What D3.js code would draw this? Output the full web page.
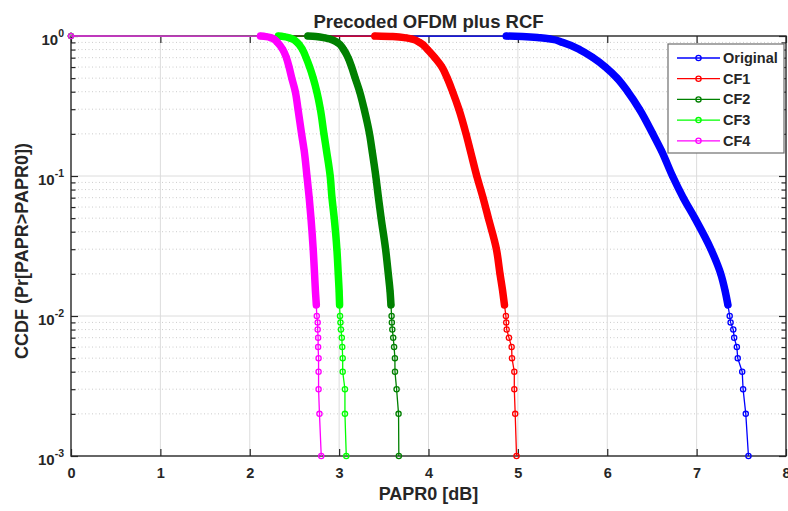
<!DOCTYPE html>
<html lang="en">
<head>
<meta charset="utf-8">
<title>Precoded OFDM plus RCF</title>
<script src="https://d3js.org/d3.v7.min.js"></script>
<style>
body {
  margin: 0;
  background: #fff;
}
/* all chart text is bold, dark grey like matlab */
text {
  font-family: "Liberation Sans", Arial, Helvetica, sans-serif;
  font-weight: bold;
  fill: #262626;
}
</style>
</head>
<body>
<div id="chart"></div>
<script>
// CCDF levels (y values shared by every curve)
var ccdf = [1, 0.999, 0.99, 0.97, 0.95, 0.9, 0.8, 0.7, 0.6, 0.5, 0.4, 0.3, 0.2, 0.15, 0.1,
            0.07, 0.05, 0.03, 0.02, 0.015, 0.012, 0.01, 0.009, 0.008, 0.007, 0.006, 0.005,
            0.004, 0.003, 0.002, 0.001];

// PAPR0 [dB] reached at each ccdf level, one array per curve
var paprOriginal = [0, 4.87, 5.05, 5.25, 5.37, 5.50, 5.69, 5.84, 5.98, 6.11, 6.23, 6.36, 6.51, 6.61, 6.73,
                    6.85, 6.98, 7.16, 7.27, 7.32, 7.35, 7.37, 7.38, 7.41, 7.42, 7.45, 7.46,
                    7.51, 7.52, 7.55, 7.58];
var paprCF1 = [0, 3.40, 3.60, 3.75, 3.82, 3.90, 3.99, 4.07, 4.15, 4.21, 4.27, 4.34, 4.42, 4.47, 4.54,
               4.61, 4.67, 4.76, 4.80, 4.83, 4.85, 4.866, 4.87, 4.875, 4.90, 4.93, 4.934,
               4.96, 4.96, 4.97, 4.985];
var paprCF2 = [0, 2.65, 2.74, 2.84, 2.90, 2.98, 3.05, 3.10, 3.14, 3.18, 3.23, 3.28, 3.34, 3.37, 3.41,
               3.44, 3.47, 3.52, 3.55, 3.57, 3.58, 3.587, 3.59, 3.595, 3.605, 3.615, 3.624,
               3.625, 3.643, 3.665, 3.668];
var paprCF3 = [0, 2.32, 2.38, 2.44, 2.48, 2.53, 2.59, 2.63, 2.67, 2.71, 2.75, 2.79, 2.83, 2.86, 2.90,
               2.92, 2.945, 2.975, 2.99, 3.0, 3.005, 3.01, 3.015, 3.02, 3.03, 3.035, 3.04,
               3.04, 3.065, 3.065, 3.08];
var paprCF4 = [0, 2.12, 2.18, 2.24, 2.27, 2.31, 2.37, 2.41, 2.44, 2.47, 2.51, 2.54, 2.58, 2.61, 2.64,
               2.665, 2.685, 2.71, 2.725, 2.735, 2.745, 2.75, 2.76, 2.76, 2.765, 2.765, 2.77,
               2.77, 2.77, 2.78, 2.80];

var seriesNames = ["Original", "CF1", "CF2", "CF3", "CF4"];
var seriesPapr = [paprOriginal, paprCF1, paprCF2, paprCF3, paprCF4];
var seriesColors = ["#0000ff", "#ff0000", "#008000", "#00ff00", "#ff00ff"];

var xTicks = [0, 1, 2, 3, 4, 5, 6, 7, 8];
var yTicks = [1, 0.1, 0.01, 0.001];
var yTickExp = ["0", "-1", "-2", "-3"];

// set the dimensions and margins of the graph
var margin = {top: 36, right: 2, bottom: 55, left: 71},
    width = 788 - margin.left - margin.right,
    height = 511 - margin.top - margin.bottom;

var root = d3.select("#chart")
  .append("svg")
    .attr("width", 788)
    .attr("height", 511);

var svg = root.append("g")
    .attr("transform", "translate(" + margin.left + "," + margin.top + ")");

var x = d3.scaleLinear().domain([0, 8]).range([0, width]);
var y = d3.scaleLog().domain([0.001, 1]).range([height, 0]);

// minor log ticks 2..9 in each decade
var yMinor = y.ticks().filter(function(v) {
  return yTicks.indexOf(v) < 0 && Math.abs(Math.log10(v) - Math.round(Math.log10(v))) > 1e-6;
});

// grid lines
svg.append("g").selectAll("line")
  .data(yMinor)
  .enter().append("line")
    .attr("x1", 0).attr("x2", width)
    .attr("y1", function(d) { return y(d); })
    .attr("y2", function(d) { return y(d); })
    .style("stroke", "#cccccc")
    .style("stroke-width", 1)
    .style("stroke-dasharray", "1,2.5");

svg.append("g").selectAll("line")
  .data(xTicks.slice(1, -1))
  .enter().append("line")
    .attr("x1", function(d) { return x(d); })
    .attr("x2", function(d) { return x(d); })
    .attr("y1", 0).attr("y2", height)
    .style("stroke", "#dcdcdc")
    .style("stroke-width", 1);

svg.append("g").selectAll("line")
  .data(yTicks.slice(1, -1))
  .enter().append("line")
    .attr("x1", 0).attr("x2", width)
    .attr("y1", function(d) { return y(d); })
    .attr("y2", function(d) { return y(d); })
    .style("stroke", "#dcdcdc")
    .style("stroke-width", 1);

// axes, ticks pointing inwards on all four sides
var xAxis = svg.append("g")
  .attr("transform", "translate(0," + height + ")")
  .call(d3.axisBottom(x).tickValues(xTicks).tickSize(-7).tickSizeOuter(0).tickPadding(12));
xAxis.selectAll("text")
  .style("font-size", "14.5px")
  .style("font-family", "'Liberation Sans', Arial, sans-serif");

svg.append("g")
  .call(d3.axisTop(x).tickValues(xTicks).tickSize(-7).tickSizeOuter(0).tickFormat(""));

svg.append("g")
  .call(d3.axisLeft(y).tickValues(yTicks).tickSize(-7).tickSizeOuter(0).tickFormat(""));
svg.append("g")
  .call(d3.axisLeft(y).tickValues(yMinor).tickSize(-4.5).tickSizeOuter(0).tickFormat(""));
svg.append("g")
  .attr("transform", "translate(" + width + ",0)")
  .call(d3.axisRight(y).tickValues(yTicks).tickSize(-7).tickSizeOuter(0).tickFormat(""));
svg.append("g")
  .attr("transform", "translate(" + width + ",0)")
  .call(d3.axisRight(y).tickValues(yMinor).tickSize(-4.5).tickSizeOuter(0).tickFormat(""));

svg.selectAll(".domain").remove();
svg.selectAll(".tick line")
  .style("stroke", "#262626")
  .style("stroke-width", 1.2);

// box
svg.append("rect")
  .attr("x", 0).attr("y", 0)
  .attr("width", width).attr("height", height)
  .style("fill", "none")
  .style("stroke", "#262626")
  .style("stroke-width", 1.4);

// y tick labels as 10^k
var yLab = svg.append("g").selectAll("text")
  .data(yTicks)
  .enter().append("text")
    .attr("x", -7)
    .attr("y", function(d) { return y(d) + 9; })
    .attr("text-anchor", "end")
    .style("font-size", "15px");
yLab.append("tspan").text("10");
yLab.append("tspan")
  .attr("dy", -8)
  .style("font-size", "10.5px")
  .text(function(d, i) { return yTickExp[i]; });

// curves
var lineThin = d3.line()
  .x(function(d) { return x(d[0]); })
  .y(function(d) { return y(d[1]); });
var lineBand = d3.line()
  .curve(d3.curveMonotoneY)
  .x(function(d) { return x(d[0]); })
  .y(function(d) { return y(d[1]); });

seriesPapr.forEach(function(papr, s) {
  var pts = papr.map(function(v, i) { return [v, ccdf[i]]; });
  var col = seriesColors[s];
  var g = svg.append("g");

  // overlapping markers of the dense part read as a solid band
  g.append("path")
    .datum(pts.filter(function(d) { return d[1] < 1 && d[1] >= 0.012; }))
    .attr("d", lineBand)
    .style("fill", "none")
    .style("stroke", col)
    .style("stroke-width", 7.5)
    .style("stroke-linecap", "round")
    .style("stroke-linejoin", "round");

  g.append("path")
    .datum(pts)
    .attr("d", lineThin)
    .style("fill", "none")
    .style("stroke", col)
    .style("stroke-width", 1.3);

  g.selectAll("circle")
    .data(pts)
    .enter().append("circle")
      .attr("cx", function(d) { return x(d[0]); })
      .attr("cy", function(d) { return y(d[1]); })
      .attr("r", 2.6)
      .style("fill", "none")
      .style("stroke", col)
      .style("stroke-width", 1.3);
});

// title and axis labels
root.append("text")
  .attr("x", margin.left + width / 2)
  .attr("y", 28)
  .attr("text-anchor", "middle")
  .style("font-size", "18.5px")
  .text("Precoded OFDM plus RCF");

root.append("text")
  .attr("x", margin.left + width / 2)
  .attr("y", 500)
  .attr("text-anchor", "middle")
  .style("font-size", "18px")
  .text("PAPR0 [dB]");

root.append("text")
  .attr("transform", "translate(28," + (margin.top + height / 2 + 5) + ") rotate(-90)")
  .attr("text-anchor", "middle")
  .style("font-size", "18px")
  .text("CCDF (Pr[PAPR>PAPR0])");

// legend
var legend = root.append("g").attr("transform", "translate(668,44)");
legend.append("rect")
  .attr("width", 116).attr("height", 109)
  .style("fill", "#fff")
  .style("stroke", "#6e6e6e")
  .style("stroke-width", 1.2);

seriesNames.forEach(function(name, i) {
  var cy = 14 + i * 20.7;
  legend.append("line")
    .attr("x1", 9).attr("x2", 52)
    .attr("y1", cy).attr("y2", cy)
    .style("stroke", seriesColors[i])
    .style("stroke-width", 1.3);
  legend.append("circle")
    .attr("cx", 30.5).attr("cy", cy).attr("r", 2.6)
    .style("fill", "none")
    .style("stroke", seriesColors[i])
    .style("stroke-width", 1.3);
  legend.append("text")
    .attr("x", 55).attr("y", cy + 5)
    .style("font-size", "14.5px")
    .text(name);
});
</script>
</body>
</html>
